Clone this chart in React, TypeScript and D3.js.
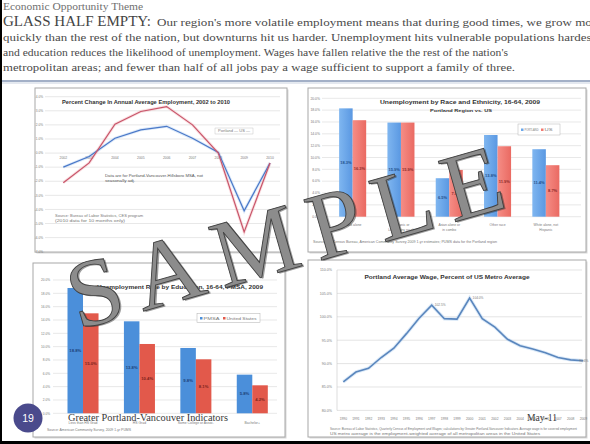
import React from 'react';
import * as d3 from 'd3';

const W = 590;
const H = 444;

// ---------- Data ----------
// Chart A: Percent change in annual average employment
const empYears = ['2002', '2003', '2004', '2005', '2006', '2007', '2008', '2009', '2010'];
const empPortland = [-2.1, -0.7, 2.05, 2.95, 3.3, 2.0, 0.0, -5.6, -0.7];
const empUS = [-1.0, -0.25, 1.05, 1.65, 1.9, 1.05, 0.05, -4.1, -0.7];
const empTicks = [4, 3, 2, 1, 0, -1, -2, -3, -4, -5, -6, -7];

// Chart B: Unemployment by race and ethnicity
const raceCats = ['Black alone', 'Hispanic or Latino (any race)', 'Asian alone or in combo', 'Other race', 'White alone, not Hispanic'];
const racePortland = [18.3, 15.9, 6.5, 13.8, 11.4];
const raceUS = [16.3, 15.9, 7.9, 11.9, 8.7];
const raceTicks = [0, 2, 4, 6, 8, 10, 12, 14, 16, 18, 20];

// Chart C: Unemployment by education
const eduCats = ['Less than HS Grad', 'HS Grad', 'Some College or Assoc.', 'Bachelor+'];
const eduPMSA = [18.8, 13.8, 9.8, 5.8];
const eduUS = [15.0, 10.4, 8.1, 4.2];
const eduTicks = [0, 2, 4, 6, 8, 10, 12, 14, 16, 18, 20];

// Chart D: Average wage, percent of US metro average
const wageYears = ['1990', '1991', '1992', '1993', '1994', '1995', '1996', '1997', '1998', '1999',
  '2000', '2001', '2002', '2003', '2004', '2005', '2006', '2007', '2008', '2009'];
const wageValues = [86.1, 88.2, 89.0, 91.3, 93.3, 96.4, 99.7, 102.5, 99.6, 99.5,
  104.0, 99.6, 97.8, 95.2, 93.8, 93.1, 92.3, 91.3, 90.8, 90.6];
const wageTicks = [80, 85, 90, 95, 100, 105, 110];

const SERIF = '"Liberation Serif", "Times New Roman", serif';
const SANS = '"Liberation Sans", Arial, sans-serif';

const BLUE_B = '#6ba7ea';
const RED_B = '#f17a72';
const BLUE_C = '#4b8fda';
const RED_C = '#e2594b';

function ChartBox({ x, y, w, h }: { x: number; y: number; w: number; h: number }) {
  return (
    <g>
      <rect x={x + 1.5} y={y + 1.5} width={w} height={h} fill="#d8d8d8" />
      <rect x={x} y={y} width={w} height={h} fill="#ffffff" stroke="#a8a8a8" strokeWidth={1} />
    </g>
  );
}

function Tiny({ x, y, children, anchor = 'middle', size = 3.6, fill = '#7a7a7a', weight = 'normal', len }: any) {
  return (
    <text x={x} y={y} fontSize={size} fontFamily={SANS} fill={fill} textAnchor={anchor} fontWeight={weight}
      textLength={len} lengthAdjust={len ? 'spacingAndGlyphs' : undefined}>
      {children}
    </text>
  );
}

export default function App() {
  // ---------- Chart A ----------
  const aX = d3.scalePoint<string>().domain(empYears).range([63.3, 270]);
  const aY = d3.scaleLinear().domain([4, -7]).range([96.7, 251.7]);
  const aLine = d3.line<number>().x((_, i) => aX(empYears[i]) as number).y((d) => aY(d));

  // ---------- Chart B ----------
  const bX = d3.scaleBand<string>().domain(raceCats).range([328.5, 570]).paddingInner(0.44).paddingOuter(0.22);
  const bY = d3.scaleLinear().domain([0, 20]).range([216.7, 98.3]);

  // ---------- Chart C ----------
  const cX = d3.scaleBand<string>().domain(eduCats).range([54.8, 280.5]).paddingInner(0.45).paddingOuter(0.225);
  const cY = d3.scaleLinear().domain([0, 20]).range([413.3, 280]);

  // ---------- Chart D ----------
  const dX = d3.scalePoint<string>().domain(wageYears).range([343.3, 583.3]);
  const dY = d3.scaleLinear().domain([80, 110]).range([410.4, 270]);
  const dLine = d3.line<number>().x((_, i) => dX(wageYears[i]) as number).y((d) => dY(d));

  const bw = bX.bandwidth() / 2;
  const cw = cX.bandwidth() / 2;

  return (
    <svg width={W} height={H} viewBox={`0 0 ${W} ${H}`}
      style={{ position: 'absolute', left: 0, top: 0, background: '#fff' }}>
      <defs>
        <linearGradient id="gb" x1="0" x2="1" y1="0" y2="0">
          <stop offset="0" stopColor="#7fb6f0" />
          <stop offset="1" stopColor="#5a98e2" />
        </linearGradient>
        <linearGradient id="gr" x1="0" x2="1" y1="0" y2="0">
          <stop offset="0" stopColor="#f58d86" />
          <stop offset="1" stopColor="#ea6a62" />
        </linearGradient>
      </defs>
      <rect x={0} y={0} width={W} height={H} fill="#ffffff" />

      {/* ---------- Header ---------- */}
      <text x={3} y={10} fontFamily={SERIF} fontSize={9.5} fill="#707070" textLength={140} lengthAdjust="spacingAndGlyphs">
        Economic Opportunity Theme
      </text>
      <text x={3} y={26} fontFamily={SERIF} fontSize={15} fill="#444" textLength={148} lengthAdjust="spacingAndGlyphs">
        GLASS HALF EMPTY:
      </text>
      <text x={157} y={26} fontFamily={SERIF} fontSize={11} fill="#4a4a4a" textLength={445} lengthAdjust="spacingAndGlyphs">
        Our region's more volatile employment means that during good times, we grow more
      </text>
      <text x={3} y={41} fontFamily={SERIF} fontSize={11} fill="#4a4a4a" textLength={592} lengthAdjust="spacingAndGlyphs">
        quickly than the rest of the nation, but downturns hit us harder. Unemployment hits vulnerable populations hardest
      </text>
      <text x={3} y={56} fontFamily={SERIF} fontSize={11} fill="#4a4a4a" textLength={505} lengthAdjust="spacingAndGlyphs">
        and education reduces the likelihood of unemployment. Wages have fallen relative the the rest of the nation's
      </text>
      <text x={3} y={71} fontFamily={SERIF} fontSize={11} fill="#4a4a4a" textLength={512} lengthAdjust="spacingAndGlyphs">
        metropolitan areas; and fewer than half of all jobs pay a wage sufficient to support a family of three.
      </text>
      <line x1={2} x2={W} y1={81} y2={81} stroke="#8496b4" strokeWidth={1.6} />
      <line x1={2} x2={W} y1={83} y2={83} stroke="#c9d2e0" strokeWidth={1} />

      {/* ---------- Chart A: line chart ---------- */}
      <ChartBox x={35} y={88} w={252} h={164} />
      {empTicks.map((t) => (
        <g key={t}>
          <line x1={45} x2={280} y1={aY(t)} y2={aY(t)} stroke="#d6d6d6" strokeWidth={0.6} />
          <Tiny x={43} y={aY(t) + 1.2} anchor="end" size={3.2}>{`${t.toFixed(1)}%`}</Tiny>
        </g>
      ))}
      {empYears.map((yr) => (
        <Tiny key={yr} x={aX(yr)} y={aY(0) + 5.5} size={3.4}>{yr}</Tiny>
      ))}
      <Tiny x={146} y={104} size={4.6} fill="#333" weight="bold" len={168}>
        Percent Change In Annual Average Employment, 2002 to 2010
      </Tiny>
      <rect x={215} y={128} width={38} height={6} fill="#fff" stroke="#bbb" strokeWidth={0.4} />
      <Tiny x={234} y={132.3} size={3.2} len={32}>Portland —  US —</Tiny>
      <Tiny x={105} y={177} anchor="start" size={3.4} fill="#555" len={98}>Data are for Portland-Vancouver-Hillsboro MSA, not</Tiny>
      <Tiny x={105} y={182} anchor="start" size={3.4} fill="#555" len={30}>seasonally adj.</Tiny>
      <Tiny x={55} y={217} anchor="start" size={3.2} fill="#777" len={88}>Source: Bureau of Labor Statistics, CES program</Tiny>
      <Tiny x={55} y={222} anchor="start" size={3.2} fill="#777" len={70}>(2010 data for 10 months only)</Tiny>
      <path d={aLine(empUS) || ''} fill="none" stroke="#9dc3ee" strokeWidth={3} opacity={0.35} />
      <path d={aLine(empPortland) || ''} fill="none" stroke="#f2a5ad" strokeWidth={3} opacity={0.35} />
      <path d={aLine(empUS) || ''} fill="none" stroke="#4a78c8" strokeWidth={1.2} />
      <path d={aLine(empPortland) || ''} fill="none" stroke="#c8556a" strokeWidth={1.2} />

      {/* ---------- Chart B: grouped bars ---------- */}
      <ChartBox x={308} y={88} w={278} h={164} />
      {raceTicks.map((t) => (
        <g key={t}>
          <line x1={322} x2={581} y1={bY(t)} y2={bY(t)} stroke="#d9d9d9" strokeWidth={0.6} />
          <Tiny x={320} y={bY(t) + 1.2} anchor="end" size={3.4}>{`${t.toFixed(1)}%`}</Tiny>
        </g>
      ))}
      {raceCats.map((c, i) => {
        const x0 = bX(c) as number;
        return (
          <g key={c}>
            <rect x={x0} y={bY(racePortland[i])} width={bw} height={bY(0) - bY(racePortland[i])} fill="url(#gb)" />
            <rect x={x0 + bw} y={bY(raceUS[i])} width={bw} height={bY(0) - bY(raceUS[i])} fill="url(#gr)" />
            <Tiny x={x0 + bw / 2} y={(bY(racePortland[i]) + bY(0)) / 2 + 1.5} size={4} fill="#24508c" weight="bold">{`${racePortland[i].toFixed(1)}%`}</Tiny>
            <Tiny x={x0 + bw * 1.5} y={(bY(raceUS[i]) + bY(0)) / 2 + 1.5} size={4} fill="#8c2a2a" weight="bold">{`${raceUS[i].toFixed(1)}%`}</Tiny>
            <Tiny x={x0 + bw} y={226} size={3.4}>{c.length > 16 ? c.slice(0, c.lastIndexOf(' ', 16)) : c}</Tiny>
            {c.length > 16 && <Tiny x={x0 + bw} y={231} size={3.4}>{c.slice(c.lastIndexOf(' ', 16) + 1)}</Tiny>}
          </g>
        );
      })}
      <Tiny x={460} y={103.5} size={4.8} fill="#333" weight="bold" len={160}>Unemployment by Race and Ethnicity, 16-64, 2009</Tiny>
      <Tiny x={461} y={112} size={4.2} fill="#333" weight="bold" len={62}>Portland Region vs. US</Tiny>
      <rect x={518} y={124} width={42} height={11} fill="#fff" stroke="#b5b5b5" strokeWidth={0.5} />
      <rect x={521} y={128.5} width={2.5} height={2.5} fill={BLUE_B} />
      <Tiny x={524.5} y={131} anchor="start" size={3.2} len={14}>PORTLAND</Tiny>
      <rect x={541} y={128.5} width={2.5} height={2.5} fill={RED_B} />
      <Tiny x={544.5} y={131} anchor="start" size={3.2} len={8}>US</Tiny>
      <Tiny x={313} y={243} anchor="start" size={3.2} fill="#777" len={184}>Source: US Census Bureau, American Community Survey 2009 1-yr estimates; PUMS data for the Portland region</Tiny>

      {/* ---------- Chart C: grouped bars ---------- */}
      <ChartBox x={33} y={263} w={252} h={174} />
      {eduTicks.map((t) => (
        <g key={t}>
          <line x1={53} x2={277} y1={cY(t)} y2={cY(t)} stroke="#d9d9d9" strokeWidth={0.6} />
          <Tiny x={50} y={cY(t) + 1.2} anchor="end" size={3.2}>{`${t.toFixed(1)}%`}</Tiny>
        </g>
      ))}
      {eduCats.map((c, i) => {
        const x0 = cX(c) as number;
        return (
          <g key={c}>
            <rect x={x0} y={cY(eduPMSA[i])} width={cw} height={cY(0) - cY(eduPMSA[i])} fill={BLUE_C} />
            <rect x={x0 + cw} y={cY(eduUS[i])} width={cw} height={cY(0) - cY(eduUS[i])} fill={RED_C} />
            <Tiny x={x0 + cw / 2} y={(cY(eduPMSA[i]) + cY(0)) / 2 + 1.5} size={4.2} fill="#1d3f78" weight="bold">{`${eduPMSA[i].toFixed(1)}%`}</Tiny>
            <Tiny x={x0 + cw * 1.5} y={(cY(eduUS[i]) + cY(0)) / 2 + 1.5} size={4.2} fill="#7c231c" weight="bold">{`${eduUS[i].toFixed(1)}%`}</Tiny>
            <Tiny x={x0 + cw} y={423.5} size={3.4}>{c}</Tiny>
          </g>
        );
      })}
      <Tiny x={180} y={289} size={4.8} fill="#333" weight="bold" len={166}>Unemployment Rate by Education, 16-64, PMSA, 2009</Tiny>
      <rect x={197} y={313.5} width={63} height={9} fill="#fff" stroke="#b0b0b0" strokeWidth={0.5} />
      <rect x={200} y={317} width={2.5} height={2.5} fill={BLUE_C} />
      <Tiny x={203.5} y={319.5} anchor="start" size={3.4} len={16}>PMSA</Tiny>
      <rect x={223} y={317} width={2.5} height={2.5} fill={RED_C} />
      <Tiny x={226.5} y={319.5} anchor="start" size={3.4} len={30}>United States</Tiny>
      <Tiny x={47} y={431} anchor="start" size={3.2} fill="#777" len={84}>Source: American Community Survey, 2009 1-yr PUMS</Tiny>

      {/* ---------- Chart D: line ---------- */}
      <ChartBox x={308} y={260} w={278} h={177} />
      {wageTicks.map((t) => (
        <g key={t}>
          <line x1={337} x2={582} y1={dY(t)} y2={dY(t)} stroke="#d9d9d9" strokeWidth={0.7} />
          <Tiny x={332} y={dY(t) + 1.3} anchor="end" size={3.6}>{`${t.toFixed(1)}%`}</Tiny>
        </g>
      ))}
      <line x1={337} x2={337} y1={270} y2={410.4} stroke="#c8c8c8" strokeWidth={0.6} />
      {wageYears.map((yr) => (
        <Tiny key={yr} x={dX(yr)} y={419.5} size={3.3}>{yr}</Tiny>
      ))}
      <Tiny x={447} y={278.5} size={5} fill="#333" weight="bold" len={165}>Portland Average Wage, Percent of US Metro Average</Tiny>
      <path d={dLine(wageValues) || ''} fill="none" stroke="#b9d6f2" strokeWidth={3.5} opacity={0.5} />
      <path d={dLine(wageValues) || ''} fill="none" stroke="#5a86bd" strokeWidth={1.6} />
      <Tiny x={(dX('1997') as number) + 3} y={dY(102.5) + 1.2} anchor="start" size={3.2}>102.5%</Tiny>
      <Tiny x={(dX('2000') as number) + 3} y={dY(104.0) + 1.2} anchor="start" size={3.2}>104.0%</Tiny>
      <Tiny x={(dX('2009') as number) - 4} y={dY(90.6) + 1.2} anchor="start" size={3.2}>90.6%</Tiny>
      <Tiny x={330} y={430} anchor="start" size={3.1} fill="#777" len={247}>Source: Bureau of Labor Statistics, Quarterly Census of Employment and Wages; calculations by Greater Portland-Vancouver Indicators. Average wage is for covered employment</Tiny>
      <Tiny x={330} y={435} anchor="start" size={3.1} fill="#777" len={210}>US metro average is the employment-weighted average of all metropolitan areas in the United States</Tiny>

      {/* ---------- Watermark ---------- */}
      <g transform="translate(78,330) rotate(-16)">
        <text x={1.5} y={1.5} fontFamily={SERIF} fontSize={96} letterSpacing={14} fill="#2a2a2a" opacity={0.45}>SAMPLE</text>
        <text x={0} y={0} fontFamily={SERIF} fontSize={96} letterSpacing={14} fill="#8c8c8c" stroke="#404040" strokeWidth={0.9}>SAMPLE</text>
      </g>

      {/* ---------- Footer ---------- */}
      <circle cx={28} cy={418} r={14.5} fill="#4a4a8c" />
      <text x={28} y={421.8} textAnchor="middle" fontFamily={SANS} fontSize={10.5} fill="#ffffff">19</text>
      <text x={68} y={421} fontFamily={SERIF} fontSize={11} fill="#3a3a3a" textLength={160} lengthAdjust="spacingAndGlyphs">
        Greater Portland-Vancouver Indicators
      </text>
      <text x={527} y={421} fontFamily={SERIF} fontSize={11} fill="#3a3a3a" textLength={30} lengthAdjust="spacingAndGlyphs">
        May-11
      </text>

      {/* Frame */}
      <rect x={0} y={0} width={2} height={H} fill="#000" />
      <rect x={0} y={441} width={W} height={3} fill="#000" />
    </svg>
  );
}
